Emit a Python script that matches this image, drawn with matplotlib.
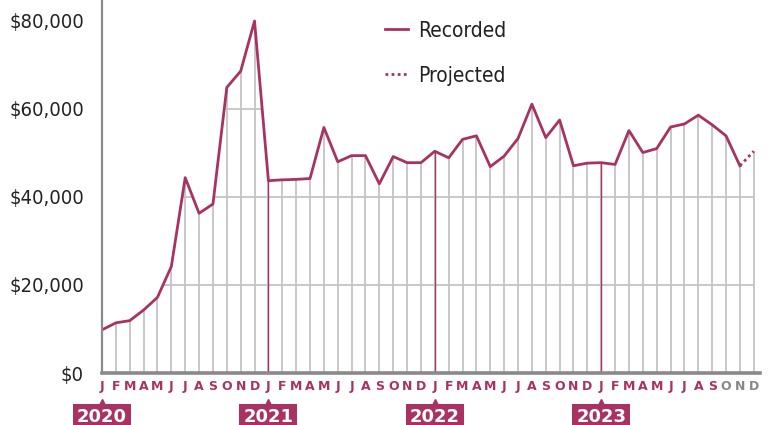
"""
Monthly recorded vs projected amounts, 2020-2023
"""
import matplotlib
matplotlib.use("Agg")
import matplotlib.pyplot as plt
from matplotlib.transforms import blended_transform_factory

# data (one value per month, Jan 2020 .. Dec 2023)
months = list("JFMAMJJASOND") * 4
years = ["2020", "2021", "2022", "2023"]
recorded = [9800, 11400, 11900, 14300, 17200, 24200, 44400, 36300, 38400, 64900, 68600, 80000,
            43700, 43900, 44000, 44200, 55800, 48000, 49400, 49400, 43000, 49200, 47800, 47800,
            50400, 48900, 53100, 53900, 46900, 49300, 53300, 61100, 53500, 57500, 47100, 47700,
            47800, 47400, 55100, 50100, 51000, 55900, 56600, 58600, 56400, 53900, 47100]
projected = [47100, 50400]   # Nov 2023 -> Dec 2023
gray_months = [45, 46, 47]   # O N D of 2023 shown in gray

magenta = "#a83262"
grid_c = "#c4c4c4"
plt.rcParams['font.family'] = ['DejaVu Sans']
plt.rcParams['font.stretch'] = 'condensed'

fig = plt.figure(figsize=(7.69, 4.25), dpi=100)
ax = fig.add_axes([102 / 769, 52 / 425, 658 / 769, 373 / 425])

x_rec = list(range(len(recorded)))
x_proj = [len(recorded) - 1, len(recorded)]
all_x = x_rec + [x_proj[1]]
all_y = recorded + [projected[1]]

# vertical month lines from 0 up to the curve
ax.vlines(all_x, 0, all_y, color=grid_c, lw=1.3, zorder=1)
for i in [12, 24, 36]:
    ax.vlines(i, 0, all_y[i], color=magenta, lw=1.0, zorder=2)

# horizontal grid lines, only under the curve
area = ax.fill_between(all_x, 0, all_y, facecolor="none", edgecolor="none")
for v in [20000, 40000, 60000]:
    ln = ax.axhline(v, color=grid_c, lw=1.3, zorder=1)
    ln.set_clip_path(area.get_paths()[0], ax.transData)

ax.plot(x_rec, recorded, color=magenta, lw=2.0, zorder=3, label="Recorded")
ax.plot(x_proj, projected, color=magenta, lw=2.0, ls=(0, (1, 1.2)), zorder=3, label="Projected")

ax.set_xlim(0, 47.45)
ax.set_ylim(0, 84770)
ax.set_yticks([0, 20000, 40000, 60000, 80000])
ax.set_yticklabels(["$0", "$20,000", "$40,000", "$60,000", "$80,000"])
ax.tick_params(axis="y", length=0, pad=13, labelsize=14.5, labelcolor="#222222")
ax.set_xticks(range(48))
ax.set_xticklabels(months, fontdict={"weight": "bold", "stretch": "normal"})
ax.tick_params(axis="x", length=0, pad=5, labelsize=9, labelcolor=magenta)
for i in gray_months:
    ax.get_xticklabels()[i].set_color("#888888")

for s in ["top", "right"]:
    ax.spines[s].set_visible(False)
ax.spines["left"].set_color("#8a8a8a")
ax.spines["left"].set_linewidth(1.6)
ax.spines["bottom"].set_color("#8a8a8a")
ax.spines["bottom"].set_linewidth(2.6)
ax.spines["left"].set_zorder(4)
ax.spines["bottom"].set_zorder(4)

# year tags with little pointer
trans = blended_transform_factory(ax.transData, fig.transFigure)
for k, yr in enumerate(years):
    xj = k * 12
    ax.text(xj, 8.5 / 425, yr, transform=trans, ha="center", va="center", color="white",
            fontsize=13, fontweight="bold", stretch="normal", clip_on=False,
            bbox=dict(boxstyle="square,pad=0.22", fc=magenta, ec="none"))
    ax.plot([xj], [22 / 425], marker="^", ms=6, color=magenta, transform=trans, clip_on=False)

leg = ax.legend(loc="upper left", bbox_to_anchor=(264 / 658, 0.995), frameon=False,
                fontsize=15, handlelength=1.1, handletextpad=0.5, labelspacing=1.2,
                labelcolor="#222222")

fig.savefig("out.png", dpi=100)
